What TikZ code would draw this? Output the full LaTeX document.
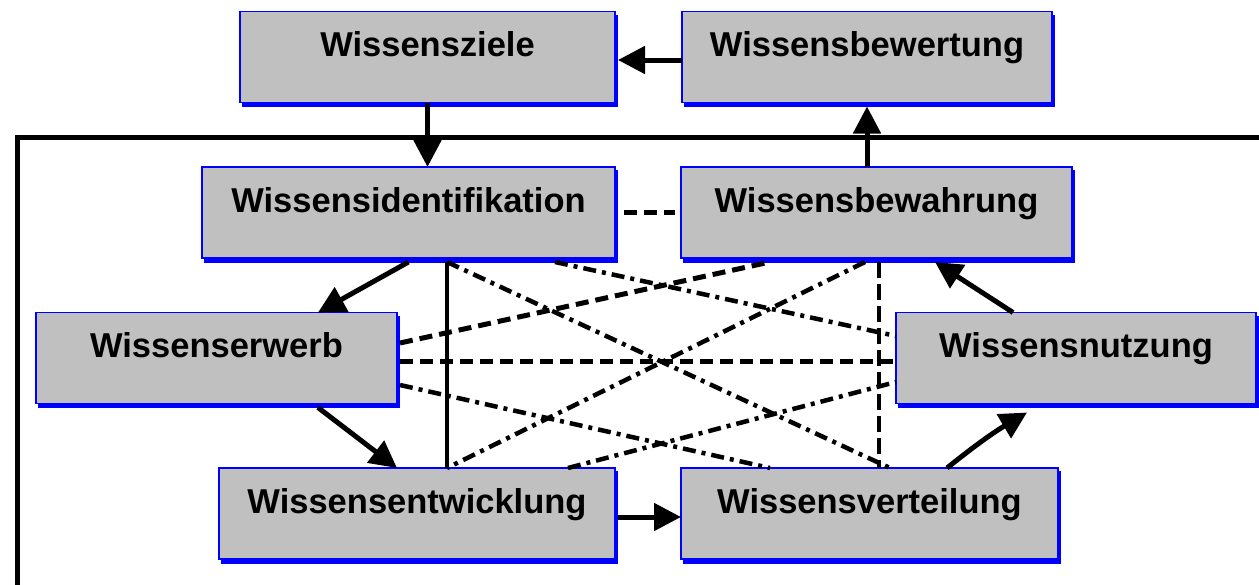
\documentclass[tikz,border=0pt]{standalone}
\usepackage{fontspec}
\setmainfont{Liberation Sans}
\usetikzlibrary{arrows.meta,shadows,calc}
\definecolor{boxgray}{RGB}{192,192,192}
\begin{document}
\begin{tikzpicture}[x=1pt,y=-1pt,
  wbox/.style={draw=blue, line width=1.5pt, fill=boxgray, outer sep=0pt, inner sep=0pt,
    general shadow={fill=blue, draw=blue, line width=1.5pt, shadow xshift=2.5pt, shadow yshift=-4pt},
    minimum height=91pt, text height=24pt, text depth=25pt,
    font=\fontsize{34.5}{40}\selectfont\bfseries},
  arr/.style={line width=5pt, -{Triangle[length=27pt,width=27pt]}},
  dsh/.style={line width=5pt, dash pattern=on 13pt off 7pt},
  vdsh/.style={line width=4pt, dash pattern=on 16pt off 6pt},
  dshdot/.style={line width=4.5pt, dash pattern=on 13pt off 6pt on 4pt off 6pt},
  thinsolid/.style={line width=3.5pt},
]
\useasboundingbox (0,0) rectangle (1259,584);
\clip (0,0) rectangle (1259,584);
\fill[white] (0,0) rectangle (1259,584);

% frame
\draw[line width=5pt, line join=miter] (1265,137) -- (17,137) -- (17,590);

% boxes
\node[wbox, minimum width=375pt] (ziel)   at (427.5,57)   {Wissensziele};
\node[wbox, minimum width=370pt] (bewert) at (867,57)     {Wissensbewertung};
\node[wbox, minimum width=413pt] (ident)  at (408.5,212.5){Wissensidentifikation};
\node[wbox, minimum width=391pt] (bewahr) at (876.5,212.5){Wissensbewahrung};
\node[wbox, minimum width=361pt] (erwerb) at (216.5,358)  {Wissenserwerb};
\node[wbox, minimum width=360pt] (nutz)   at (1076,358)   {Wissensnutzung};
\node[wbox, minimum width=396pt] (entw)   at (417,513.5)  {Wissensentwicklung};
\node[wbox, minimum width=377pt] (vert)   at (869.5,513.5){Wissensverteilung};

% helper coordinates
\coordinate (iv) at ([xshift=38.5pt,yshift=-4pt]ident.south);
\coordinate (bv) at ([xshift=2.5pt,yshift=-4pt]bewahr.south);

% non-adjacent links
\draw[thinsolid] (iv) -- (iv |- entw.north);
\draw[vdsh] (bv) -- (bv |- vert.north);
\draw[dsh, shorten <=6pt, shorten >=6pt] ([xshift=3pt]ident.east) -- (bewahr.west);
\draw[dsh] ([xshift=3pt,yshift=-3pt]erwerb.east) -- ([yshift=-3pt]nutz.west);
\draw[dsh] ([xshift=3pt,yshift=15pt]erwerb.east) -- ([xshift=-106.5pt,yshift=-4pt]bewahr.south);
\draw[dshdot] ([xshift=146.5pt,yshift=-4pt]ident.south) -- ([yshift=22pt]nutz.west);
\draw[dshdot] (iv) -- ([xshift=20.5pt]vert.north);
\draw[dshdot] ([xshift=-11.5pt,yshift=-4pt]bewahr.south) -- ([xshift=30pt]entw.north);
\draw[dshdot] ([xshift=3pt,yshift=-27pt]erwerb.east) -- ([xshift=-99.5pt]vert.north);
\draw[dshdot] ([xshift=151pt]entw.north) -- ([yshift=-24pt]nutz.west);

% arrows
\draw[arr] ([yshift=-3pt]bewert.west) -- ([xshift=3pt,yshift=-3pt]ziel.east);
\draw[arr] (ziel.south) -- (ziel.south |- ident.north);
\draw[arr] (bewert.south |- bewahr.north) -- ([yshift=-4pt]bewert.south);
\draw[arr] ([yshift=-4pt]ident.south) -- ([xshift=101.5pt]erwerb.north);
\draw[arr] ([xshift=101.5pt,yshift=-4pt]erwerb.south) -- ([xshift=-20pt]entw.north);
\draw[arr] ([xshift=3pt,yshift=-3.5pt]entw.east) -- ([yshift=-3.5pt]vert.west);
\draw[arr] ([xshift=77.5pt]vert.north) to[bend left=4] ([xshift=-49pt,yshift=-9pt]nutz.south);
\draw[arr] ([xshift=-63pt]nutz.north) -- ([xshift=58.5pt,yshift=-4pt]bewahr.south);
\end{tikzpicture}
\end{document}
